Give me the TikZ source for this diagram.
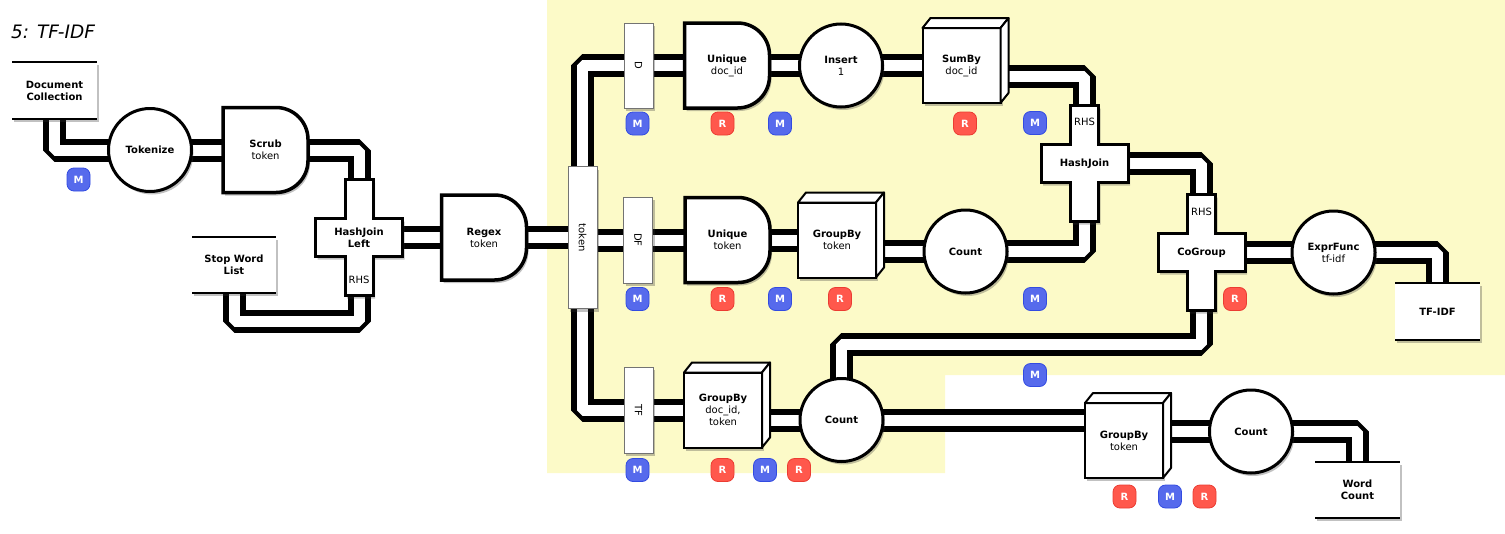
\documentclass[tikz,border=0pt]{standalone}
\usepackage{fontspec}
\setmainfont{DejaVu Sans}
\usetikzlibrary{calc,shadows}
\pgfdeclarelayer{ybg}
\pgfdeclarelayer{pipes}
\pgfdeclarelayer{shapes}
\pgfsetlayers{ybg,pipes,shapes,main}
\definecolor{bgy}{RGB}{252,250,200}
\definecolor{mblue}{RGB}{86,106,236}
\definecolor{mblueb}{RGB}{50,75,225}
\definecolor{rred}{RGB}{255,88,76}
\definecolor{rredb}{RGB}{235,60,50}
\tikzset{
  base/.style={font=\fontsize{10}{12}\selectfont, align=center, inner sep=0pt, outer sep=0pt},
  bold/.style={font=\fontsize{10}{12}\selectfont\bfseries},
  shad/.style={drop shadow={shadow xshift=2pt,shadow yshift=-3pt,opacity=0.3,fill=black!80}},
  pipe/.style={draw=black, line width=6pt, double=white, double distance=11pt, line join=bevel},
  circ/.style={base, circle, draw=black, line width=3pt, fill=white, minimum size=83pt, shad},
  storeline/.style={draw=black, line width=1.5pt},
  store/.style={base, rectangle, fill=white, minimum width=85pt, minimum height=57pt, shad,
    append after command={(\tikzlastnode.north west) edge[storeline] (\tikzlastnode.north east)
      (\tikzlastnode.south west) edge[storeline] (\tikzlastnode.south east)}},
  bar/.style={base, rectangle, fill=white, draw=black!55, line width=0.8pt, minimum height=29pt, rotate=-90, shad},
  dsh/.style={base, minimum width=85pt, minimum height=85pt},
  dst/.style={draw=black, line width=3.5pt, fill=white, shad},
  cube/.style={base, rectangle, draw=black, line width=2pt, fill=white, minimum width=78pt, minimum height=75pt, shad},
  cubeface/.style={draw=black, line width=2pt, fill=white, line join=round},
  crossn/.style={base},
  crossst/.style={draw=black, line width=3pt, fill=white, shad, line join=miter},
  badge/.style={base, rounded corners=7pt, minimum size=23pt, line width=0.8pt, text=white, font=\fontsize{10}{12}\selectfont\bfseries},
  mb/.style={badge, fill=mblue, draw=mblueb},
  rb/.style={badge, fill=rred, draw=rredb},
}
\newcommand\dshape[1]{\draw[dst] (#1.south west) -- (#1.north west) -- ($(#1.north east)+(-32,0)$) arc[start angle=-90,end angle=0,radius=32] -- ($(#1.south east)+(0,-32)$) arc[start angle=0,end angle=90,radius=32] -- cycle;}
\newcommand\crossshape[1]{\draw[crossst] ($(#1.center)+(-14,-58)$) -- ($(#1.center)+(14,-58)$) -- ($(#1.center)+(14,-19)$) -- ($(#1.center)+(43.5,-19)$) -- ($(#1.center)+(43.5,19)$) -- ($(#1.center)+(14,19)$) -- ($(#1.center)+(14,58)$) -- ($(#1.center)+(-14,58)$) -- ($(#1.center)+(-14,19)$) -- ($(#1.center)+(-43.5,19)$) -- ($(#1.center)+(-43.5,-19)$) -- ($(#1.center)+(-14,-19)$) -- cycle;}
\newcommand\cubefaces[1]{\draw[cubeface] (#1.north west) -- ++(8,-10) -- ($(#1.north east)+(8,-10)$) -- (#1.north east) -- cycle;
  \draw[cubeface] (#1.north east) -- ++(8,-10) -- ($(#1.south east)+(8,-10)$) -- (#1.south east) -- cycle;}
\begin{document}
\begin{tikzpicture}[x=1pt,y=-1pt]
\useasboundingbox (0,0) rectangle (1505,533);
\begin{pgfonlayer}{ybg}
\fill[bgy] (547,0) -- (1505,0) -- (1505,375) -- (945,375) -- (945,473) -- (547,473) -- cycle;
\end{pgfonlayer}

\node[anchor=base west, font=\fontsize{18.5}{22}\selectfont\itshape, inner sep=0pt] (title) at (11,38) {5: TF-IDF};

% nodes
\node[store, bold] (dc) at (54.5,90.5) {Document\\Collection};
\node[circ, bold] (tok) at (150,150) {Tokenize};
\node[dsh] (scrub) at (265.5,150) {\textbf{Scrub}\\token};
\node[crossn, bold] (hjl) at (359,237.5) {HashJoin\\Left};
\node[base] (hjlr) at (359,280) {RHS};
\node[store, bold, minimum width=84pt, minimum height=56pt] (swl) at (234,265) {Stop Word\\List};
\node[dsh] (regex) at (484,237.5) {\textbf{Regex}\\token};
\node[bar, minimum width=142pt] (tokbar) at (582.5,237.5) {token};
\node[bar, minimum width=85pt] (dbar) at (638.5,65.5) {D};
\node[bar, minimum width=86pt] (dfbar) at (638,240) {DF};
\node[bar, minimum width=86pt] (tfbar) at (638.5,410) {TF};
\node[dsh] (un1) at (727,65.5) {\textbf{Unique}\\doc\_id};
\node[circ] (ins) at (841,65.5) {\textbf{Insert}\\1};
\node[cube] (sumby) at (961.5,65.5) {\textbf{SumBy}\\doc\_id};
\node[crossn, bold] (hj) at (1084.5,163.5) {HashJoin};
\node[base] (hjr) at (1084.5,122) {RHS};
\node[dsh] (un2) at (727.5,240) {\textbf{Unique}\\token};
\node[cube] (gb2) at (837,240) {\textbf{GroupBy}\\token};
\node[circ, bold] (cnt2) at (965.5,251.5) {Count};
\node[crossn, bold] (cg) at (1201.5,252.5) {CoGroup};
\node[base] (cgr) at (1201.5,212) {RHS};
\node[circ] (ef) at (1333.5,252.5) {\textbf{ExprFunc}\\tf-idf};
\node[store, bold] (tfidf) at (1437.5,311.5) {TF-IDF};
\node[cube] (gb3) at (723,410) {\textbf{GroupBy}\\doc\_id,\\token};
\node[circ, bold] (cnt3) at (841.5,420) {Count};
\node[cube] (gb4) at (1124,440.5) {\textbf{GroupBy}\\token};
\node[circ, bold] (cnt4) at (1251,431.5) {Count};
\node[store, bold, minimum height=56pt] (wc) at (1357.5,490) {Word\\Count};

\cubefaces{sumby}
\cubefaces{gb2}
\cubefaces{gb3}
\cubefaces{gb4}

\begin{pgfonlayer}{shapes}
\dshape{scrub}
\dshape{regex}
\dshape{un1}
\dshape{un2}
\crossshape{hjl}
\crossshape{hj}
\crossshape{cg}
\end{pgfonlayer}

% badges
\node[mb] (b1) at (78.5,179.5) {M};
\node[mb] (b2) at (637.5,123.5) {M};
\node[rb] (b3) at (722.5,123.5) {R};
\node[mb] (b4) at (780,123.5) {M};
\node[rb] (b5) at (965,123.5) {R};
\node[mb] (b6) at (1035,123) {M};
\node[mb] (b7) at (637.5,299) {M};
\node[rb] (b8) at (722.5,299) {R};
\node[mb] (b9) at (780,299) {M};
\node[rb] (b10) at (840,299) {R};
\node[mb] (b11) at (1035,299) {M};
\node[rb] (b12) at (1235,299) {R};
\node[mb] (b13) at (1035,375) {M};
\node[mb] (b14) at (637.5,470) {M};
\node[rb] (b15) at (722.5,470) {R};
\node[mb] (b16) at (765,470) {M};
\node[rb] (b17) at (799,470) {R};
\node[rb] (b18) at (1124.5,496.5) {R};
\node[mb] (b19) at (1170,496.5) {M};
\node[rb] (b20) at (1204.5,496.5) {R};

\coordinate (j1) at (359,321);
\coordinate (j2) at (841.5,344);

\begin{pgfonlayer}{pipes}
\draw[pipe] (dc.center) |- (tok.center);
\draw[pipe] (tok.center) -- (scrub.center);
\draw[pipe] (scrub.center) -| (hjl.center);
\draw[pipe] (swl.center) |- (j1) -- (hjl.center);
\draw[pipe] (hjl.center) -- (regex.center);
\draw[pipe] (regex.center) -- (tokbar.center);
\draw[pipe] (tokbar.center) |- (dbar.center);
\draw[pipe] (dbar.center) -- (un1.center);
\draw[pipe] (un1.center) -- (ins.center);
\draw[pipe] (ins.center) -- (sumby.center);
\draw[pipe] ($(sumby.center)+(0,10.5)$) -| (hj.center);
\draw[pipe] (tokbar.center |- dfbar.center) -- (dfbar.center);
\draw[pipe] (dfbar.center) -- (un2.center);
\draw[pipe] (un2.center) -- (gb2.center);
\draw[pipe] (gb2.center |- cnt2.center) -- (cnt2.center);
\draw[pipe] (cnt2.center) -| (hj.center);
\draw[pipe] (hj.center) -| (cg.center);
\draw[pipe] (cg.center) -- (ef.center);
\draw[pipe] (ef.center) -| (tfidf.center);
\draw[pipe] (cg.center) |- (j2) -- (cnt3.center);
\draw[pipe] (tokbar.center) |- (tfbar.center);
\draw[pipe] (tfbar.center) -- (gb3.center);
\draw[pipe] (gb3.center |- cnt3.center) -- (cnt3.center);
\draw[pipe] (cnt3.center) -- (cnt3.center -| gb4.center);
\draw[pipe] (gb4.center |- cnt4.center) -- (cnt4.center);
\draw[pipe] (cnt4.center) -| (wc.center);
\end{pgfonlayer}
\end{tikzpicture}
\end{document}
